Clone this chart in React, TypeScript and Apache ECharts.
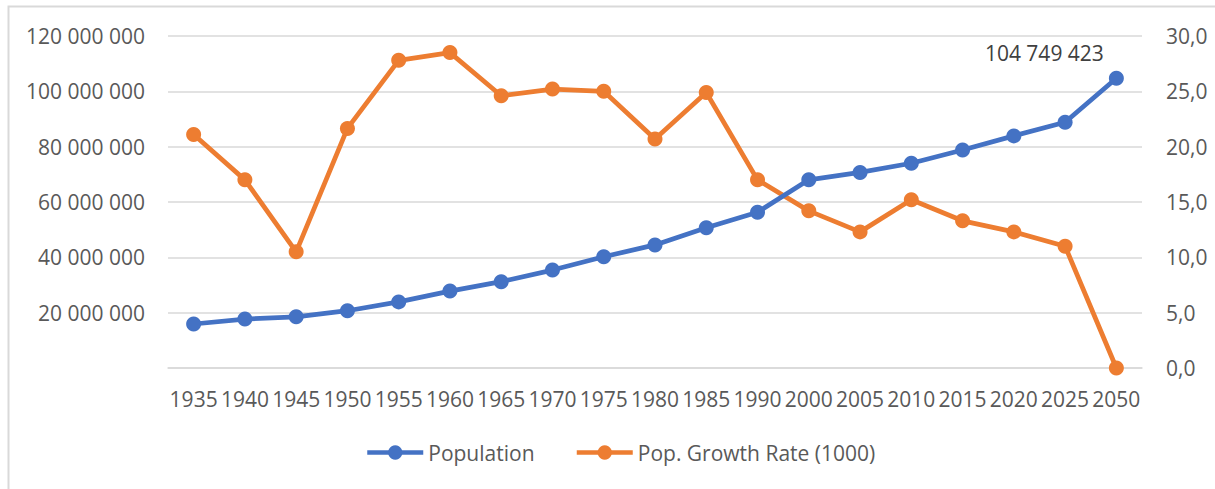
import React, { useEffect, useRef } from "react";
import * as echarts from "echarts";

const years = ["1935","1940","1945","1950","1955","1960","1965","1970","1975","1980","1985","1990","2000","2005","2010","2015","2020","2025","2050"];
const population = [15900000,17700000,18500000,20700000,23900000,27800000,31200000,35400000,40200000,44500000,50700000,56300000,68000000,70700000,74000000,78800000,83900000,88800000,104749423];
const growthRate = [21.1,17.0,10.5,21.65,27.8,28.5,24.6,25.2,25.0,20.7,24.9,17.0,14.2,12.3,15.2,13.3,12.3,11.0,0.0];

const FONT = "'Open Sans', sans-serif";
const TXT = "#595959";
const GRID = "#d9d9d9";
const FS = 21;

function spaced(v: number): string {
  return String(Math.round(v)).replace(/\B(?=(\d{3})+(?!\d))/g, " ");
}

export default function App() {
  const ref = useRef<HTMLDivElement>(null);
  useEffect(() => {
    if (!ref.current) return;
    const chart = echarts.init(ref.current, null, { renderer: "svg" });
    chart.setOption({
      animation: false,
      textStyle: { fontFamily: FONT, color: TXT },
      graphic: [
        {
          type: "polyline",
          shape: { points: [[8.5, 489], [8.5, 6.5], [1215, 6.5]] },
          style: { stroke: GRID, lineWidth: 2, fill: "none" },
        },
      ],
      grid: { left: 168, right: 73, top: 36, bottom: 121, containLabel: false },
      legend: {
        left: 360,
        top: 437,
        itemWidth: 56,
        itemHeight: 18,
        itemGap: 40,
        lineStyle: { width: 4.5 },
        textStyle: { fontFamily: FONT, fontSize: FS, color: TXT },
        data: ["Population", "Pop. Growth Rate (1000)"],
      },
      xAxis: {
        type: "category",
        data: years,
        boundaryGap: true,
        axisTick: { show: false },
        axisLine: { show: true, lineStyle: { color: GRID, width: 1.5 } },
        axisLabel: { interval: 0, margin: 20, fontSize: FS, color: TXT, fontFamily: FONT },
      },
      yAxis: [
        {
          type: "value",
          min: 0,
          max: 120000000,
          interval: 20000000,
          axisLine: { show: false },
          axisTick: { show: false },
          splitLine: { lineStyle: { color: GRID, width: 1.5 } },
          axisLabel: {
            margin: 23,
            fontSize: FS,
            color: TXT,
            fontFamily: FONT,
            formatter: (v: number) => (v === 0 ? "" : spaced(v)),
          },
        },
        {
          type: "value",
          min: 0,
          max: 30,
          interval: 5,
          axisLine: { show: false },
          axisTick: { show: false },
          splitLine: { show: false },
          axisLabel: {
            margin: 24,
            fontSize: FS,
            color: TXT,
            fontFamily: FONT,
            formatter: (v: number) => v.toFixed(1).replace(".", ","),
          },
        },
      ],
      series: [
        {
          name: "Population",
          type: "line",
          yAxisIndex: 0,
          data: population.map((v, i) =>
            i === population.length - 1
              ? {
                  value: v,
                  label: {
                    show: true,
                    position: "top",
                    offset: [-72, -2],
                    fontSize: FS,
                    color: "#404040",
                    fontFamily: FONT,
                    formatter: (p: any) => spaced(p.value),
                  },
                }
              : v
          ),
          symbol: "circle",
          symbolSize: 15,
          lineStyle: { color: "#4472C4", width: 4.75 },
          itemStyle: { color: "#4472C4" },
          z: 3,
        },
        {
          name: "Pop. Growth Rate (1000)",
          type: "line",
          yAxisIndex: 1,
          data: growthRate,
          symbol: "circle",
          symbolSize: 15,
          lineStyle: { color: "#ED7D31", width: 4.75 },
          itemStyle: { color: "#ED7D31" },
          z: 2,
        },
      ],
    });
    return () => chart.dispose();
  }, []);
  return (
    <div
      ref={ref}
      style={{ position: "fixed", left: 0, top: 0, width: 1215, height: 489, background: "#fff" }}
    />
  );
}
